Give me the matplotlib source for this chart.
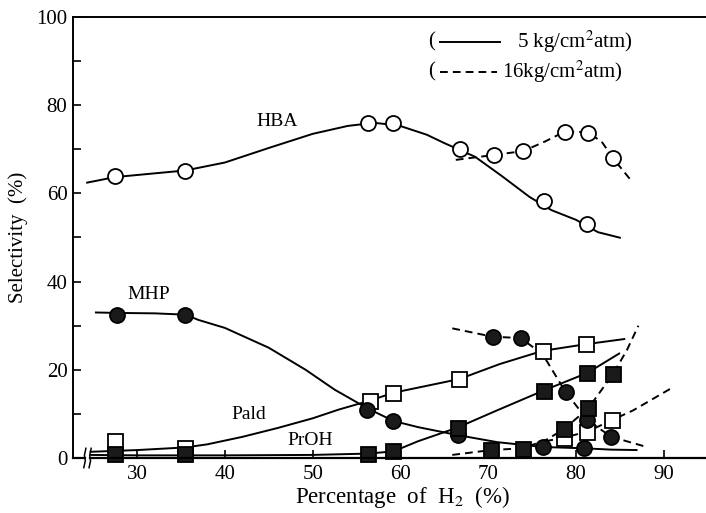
import numpy as np
import matplotlib
matplotlib.use('Agg')
import matplotlib.pyplot as plt
from matplotlib.lines import Line2D

plt.rcParams['font.family'] = ['Liberation Serif', 'DejaVu Serif']
plt.rcParams['mathtext.fontset'] = 'stix'

# ---- measured points (H2 %, selectivity %) ----
# 5 kg/cm2 atm
hba5_x = [27.5, 35.5, 56.3, 59.2, 66.8, 76.3, 81.3]
hba5_y = [64.0, 65.0, 76.0, 76.0, 70.0, 58.3, 53.0]
mhp5_x = [27.7, 35.5, 56.2, 59.2, 66.5, 76.2, 80.9]
mhp5_y = [32.5, 32.5, 10.8, 8.4, 5.2, 2.5, 2.3]
pald5_x = [27.5, 35.5, 56.5, 59.2, 66.7, 76.2, 81.1]
pald5_y = [3.8, 2.3, 13.0, 14.8, 17.9, 24.3, 25.8]
proh5_x = [27.5, 35.5, 56.3, 59.2, 66.5, 76.3, 81.3]
proh5_y = [1.0, 1.0, 1.0, 1.5, 6.9, 15.3, 19.3]

# 16 kg/cm2 atm
hba16_x = [70.6, 74.0, 78.7, 81.4, 84.2]
hba16_y = [68.7, 69.6, 74.0, 73.7, 68.0]
mhp16_x = [70.5, 73.7, 78.8, 81.3, 84.0]
mhp16_y = [27.5, 27.2, 15.0, 8.6, 4.8]
pald16_x = [78.6, 81.3, 84.1]
pald16_y = [4.6, 6.0, 8.6]
proh16_x = [70.3, 73.9, 78.6, 81.4, 84.2]
proh16_y = [1.8, 2.0, 6.5, 11.3, 19.0]

# ---- hand-drawn guide curves (knots) ----
hba5_cx = [24.2, 27.5, 35.5, 40, 45, 50, 54, 57, 59.8, 63, 65, 68.5, 71.5, 74.7, 77.2, 80, 82.5, 85.1]
hba5_cy = [62.4, 63.7, 65.2, 67, 70.3, 73.5, 75.3, 76, 75.4, 73.3, 71.4, 68.3, 64, 59.2, 56.2, 54, 51.2, 49.9]
hba16_cx = [66.3, 70.6, 74.0, 76.5, 78.7, 81.4, 83, 84.2, 86.4]
hba16_cy = [67.6, 68.7, 69.6, 71.8, 74.0, 73.9, 71.5, 68.0, 62.6]
mhp5_cx = [25.2, 27.7, 32, 35.5, 37, 40, 45, 49.2, 52.5, 56.2, 59.2, 62, 66.5, 71, 76.2, 80.9, 84, 87.0]
mhp5_cy = [33.0, 32.9, 32.8, 32.5, 31.3, 29.5, 25.0, 20.0, 15.5, 11.3, 8.4, 7.0, 5.2, 3.6, 2.5, 2.2, 1.9, 1.8]
mhp16_cx = [65.9, 70.5, 73.7, 76.2, 78.8, 81.3, 84.0, 87.7]
mhp16_cy = [29.4, 27.5, 27.2, 23.5, 15.0, 8.6, 4.8, 2.7]
pald5_cx = [24.6, 30, 35.5, 38, 42, 46, 50, 53, 56.5, 59.2, 66.7, 71.3, 76.2, 81.1, 85.6]
pald5_cy = [1.4, 1.8, 2.4, 3.1, 4.8, 6.8, 9.0, 11.0, 13.0, 14.8, 17.9, 21.3, 24.3, 25.8, 27.0]
pald16_cx = [76.5, 78.6, 81.3, 84.1, 86.5, 91.0]
pald16_cy = [3.8, 4.6, 6.0, 8.6, 10.8, 16.0]
proh5_cx = [24.6, 30, 40, 50, 56.3, 59.2, 62, 66.5, 71, 76.3, 81.3, 85.0]
proh5_cy = [0.7, 0.6, 0.6, 0.7, 1.0, 1.5, 3.8, 6.9, 10.8, 15.3, 19.3, 23.8]
proh16_cx = [65.9, 70.3, 73.9, 76.5, 78.6, 81.4, 84.2, 85.8, 87.1]
proh16_cy = [0.7, 1.8, 2.2, 4.0, 6.5, 11.3, 19.0, 24.5, 30.0]

fig = plt.figure(figsize=(7.06, 5.13), dpi=100)
ax = fig.add_axes([0.1034, 0.1072, 0.8966, 0.8597])

lw = 1.4
dash = (0, (4, 2.6))
for cx, cy, ls in [(hba5_cx, hba5_cy, '-'), (hba16_cx, hba16_cy, dash),
                   (mhp5_cx, mhp5_cy, '-'), (mhp16_cx, mhp16_cy, dash),
                   (pald5_cx, pald5_cy, '-'), (pald16_cx, pald16_cy, dash),
                   (proh5_cx, proh5_cy, '-'), (proh16_cx, proh16_cy, dash)]:
    ax.plot(cx, cy, color='black', lw=lw, linestyle=ls, zorder=2,
            solid_capstyle='butt', clip_on=False)

mk = dict(linestyle='none', markeredgecolor='black', markeredgewidth=1.3, clip_on=False)
# open circles: HBA
ax.plot(hba5_x, hba5_y, marker='o', markersize=10.8, markerfacecolor='white', zorder=3, **mk)
ax.plot(hba16_x, hba16_y, marker='o', markersize=10.8, markerfacecolor='white', zorder=3, **mk)
# open squares: Pald
ax.plot(pald5_x, pald5_y, marker='s', markersize=10.8, markerfacecolor='white', zorder=3, **mk)
ax.plot(pald16_x, pald16_y, marker='s', markersize=10.8, markerfacecolor='white', zorder=3, **mk)
# filled circles: MHP
ax.plot(mhp5_x, mhp5_y, marker='o', markersize=10.8, markerfacecolor='#1a1a1a', zorder=4, **mk)
ax.plot(mhp16_x, mhp16_y, marker='o', markersize=10.8, markerfacecolor='#1a1a1a', zorder=4, **mk)
# filled squares: PrOH
ax.plot(proh5_x, proh5_y, marker='s', markersize=10.8, markerfacecolor='#1a1a1a', zorder=5, **mk)
ax.plot(proh16_x, proh16_y, marker='s', markersize=10.8, markerfacecolor='#1a1a1a', zorder=5, **mk)

# curve labels
ax.text(45.9, 76.4, 'HBA', fontsize=14, ha='center', va='center')
ax.text(31.3, 37.0, 'MHP', fontsize=14, ha='center', va='center')
ax.text(42.7, 9.8, 'Pald', fontsize=14, ha='center', va='center')
ax.text(49.7, 4.0, 'PrOH', fontsize=14, ha='center', va='center')

# axes
x_lo, x_hi = 22.7, 94.8
ax.set_xlim(x_lo, x_hi)
ax.set_ylim(0, 100)
ax.spines['right'].set_visible(False)
ax.spines['bottom'].set_visible(False)
for s in ['left', 'top']:
    ax.spines[s].set_linewidth(1.4)

# bottom axis with break marks
brk = 24.3
ax.plot([x_lo, brk - 0.25], [0, 0], color='black', lw=1.6, clip_on=False, zorder=6)
ax.plot([brk + 0.35, x_hi], [0, 0], color='black', lw=1.6, clip_on=False, zorder=6)
for dx in (-0.25, 0.35):
    ax.plot([brk + dx - 0.12, brk + dx + 0.05, brk + dx - 0.05, brk + dx + 0.12],
            [-2.2, -0.6, 0.6, 2.2], color='black', lw=1.1, clip_on=False, zorder=6)

ax.set_xticks([30, 40, 50, 60, 70, 80, 90])
ax.set_yticks([0, 20, 40, 60, 80, 100])
ax.set_yticks([10, 30, 50, 70, 90], minor=True)
ax.tick_params(axis='both', which='both', direction='in', length=6, width=1.2,
               labelsize=15)
ax.tick_params(axis='x', pad=5)
ax.tick_params(axis='y', pad=4)

ax.set_ylabel('Selectivity  (%)', fontsize=15, labelpad=6)

W, H = 706.0, 513.0
def fx(px):
    return px / W
def fy(py):
    return 1 - py / H

fig.text(fx(402), fy(484), 'Percentage  of  H$_2$  (%)', fontsize=16.5,
         ha='center', va='top')

# legend drawn as in the original
fig.text(fx(428), fy(42), '(', fontsize=15, va='center', ha='left')
fig.add_artist(Line2D([fx(440), fx(500)], [fy(42), fy(42)], color='black', lw=1.4))
fig.text(fx(517), fy(42), '5 kg/cm$^2$atm)', fontsize=15, va='center', ha='left')
fig.text(fx(428), fy(72), '(', fontsize=15, va='center', ha='left')
fig.add_artist(Line2D([fx(440), fx(497)], [fy(72), fy(72)], color='black', lw=1.4,
                      linestyle=dash))
fig.text(fx(502), fy(72), '16kg/cm$^2$atm)', fontsize=15, va='center', ha='left')

fig.savefig('out.png', dpi=100)
